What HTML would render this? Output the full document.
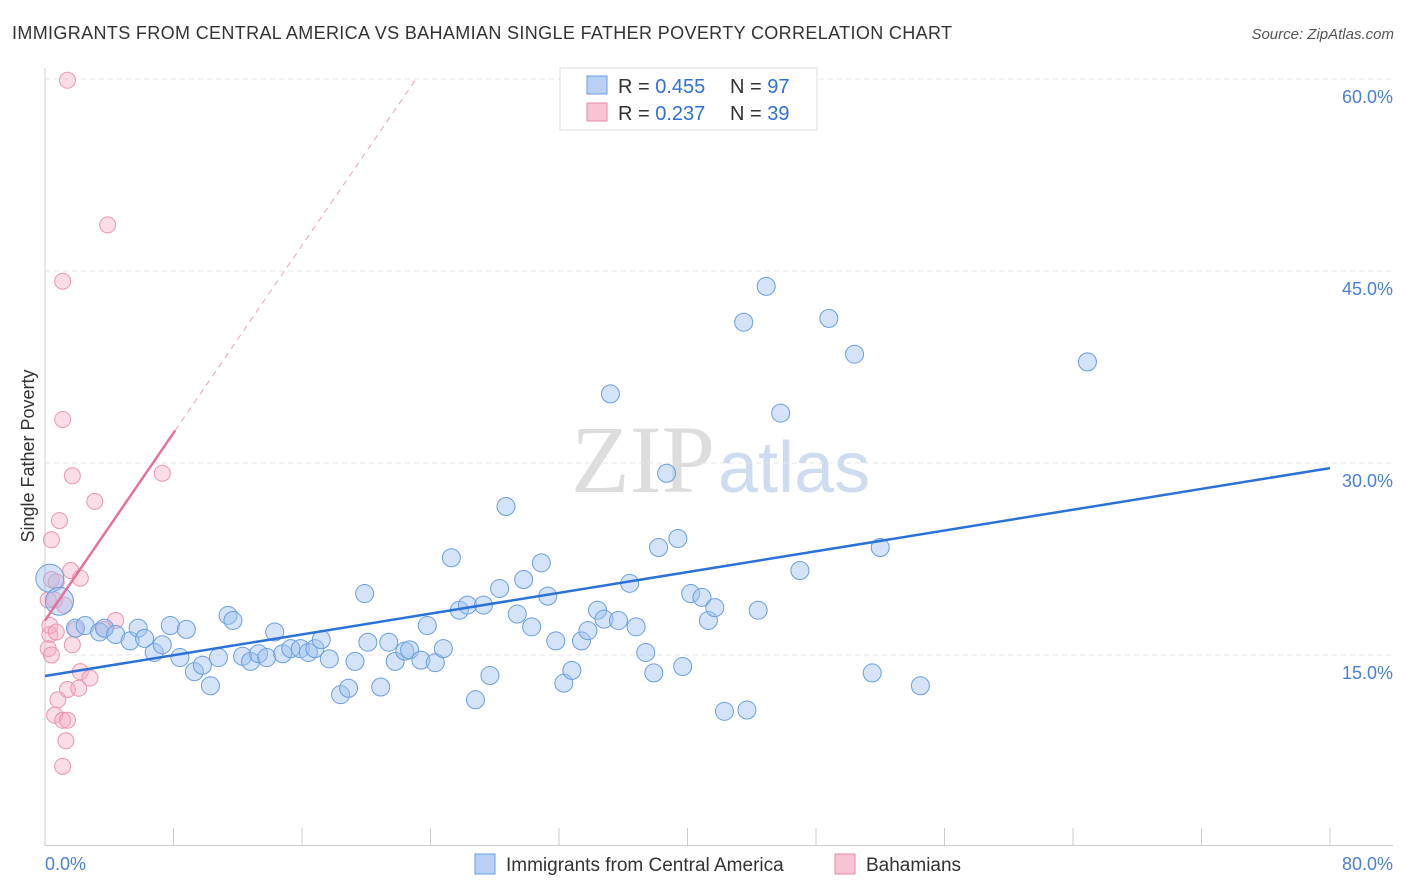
<!DOCTYPE html>
<html><head><meta charset="utf-8"><style>
body{margin:0;background:#fff;font-family:"Liberation Sans",sans-serif;}
#wrap{position:relative;width:1406px;height:892px;overflow:hidden;}
</style></head><body>
<div id="wrap">
<svg id="chart" width="1406" height="892" style="position:absolute;left:0;top:0">
<text x="12" y="39" font-size="18" fill="#333" textLength="940">IMMIGRANTS FROM CENTRAL AMERICA VS BAHAMIAN SINGLE FATHER POVERTY CORRELATION CHART</text>
<text x="1394" y="39" font-size="15" fill="#555" text-anchor="end" font-style="italic">Source: ZipAtlas.com</text>
<text transform="translate(34,456) rotate(-90)" font-size="18" fill="#333" text-anchor="middle">Single Father Poverty</text>
<text x="715" y="492" font-size="96" fill="#ddd" text-anchor="end" font-family="Liberation Serif">ZIP</text>
<text x="718" y="492" font-size="72" fill="#cfdcf0">atlas</text>
<g id="grid"></g><g id="axes"></g><g id="pinkpts"></g><g id="bluepts"></g><g id="lines"></g>
<g>
<rect x="560" y="68" width="257" height="62" fill="#fff" stroke="#ddd"/>
<rect x="587" y="76" width="20" height="18" fill="#b8d0f4" stroke="#6a9ee0"/>
<rect x="587" y="103" width="20" height="18" fill="#f8c4d4" stroke="#e88aab"/>
<text x="618" y="93" font-size="20" fill="#333">R = <tspan fill="#2e6fd8">0.455</tspan></text>
<text x="730" y="93" font-size="20" fill="#333">N = <tspan fill="#2e6fd8">97</tspan></text>
<text x="618" y="120" font-size="20" fill="#333">R = <tspan fill="#2e6fd8"> 0.237</tspan></text>
<text x="730" y="120" font-size="20" fill="#333">N = <tspan fill="#2e6fd8">39</tspan></text>
</g>
<g>
<rect x="475" y="854" width="20" height="20" fill="#b8d0f4" stroke="#6a9ee0"/>
<text x="506" y="871" font-size="19" fill="#333">Immigrants from Central America</text>
<rect x="835" y="854" width="20" height="20" fill="#f8c4d4" stroke="#e88aab"/>
<text x="866" y="871" font-size="19" fill="#333">Bahamians</text>
</g>
<text x="45" y="870" font-size="18" fill="#4a7fd6">0.0%</text>
<text x="1393" y="870" font-size="18" fill="#4a7fd6" text-anchor="end">80.0%</text>
</svg>
</div>
<script>
const yTicks=[15,30,45,60];
const blueX=[0.3,0.9,1.9,2.5,3.4,3.7,4.4,5.3,5.8,6.2,6.8,7.3,7.8,8.4,8.8,9.3,9.8,10.3,10.8,11.4,11.7,12.3,12.8,13.3,13.8,14.3,14.8,15.3,15.9,16.4,16.8,17.2,17.7,18.4,18.9,19.3,19.9,20.1,20.9,21.4,21.8,22.4,22.7,23.4,23.8,24.3,24.8,25.3,25.8,26.3,26.8,27.3,27.7,28.3,28.7,29.4,29.8,30.3,30.9,31.3,31.8,32.3,32.8,33.4,33.8,34.4,34.8,35.2,35.7,36.4,36.8,37.4,37.9,38.2,38.7,39.4,39.7,40.2,40.9,41.3,41.7,42.3,43.5,43.7,44.4,44.9,45.8,47.0,48.8,50.4,51.5,52.0,54.5,64.9];
const blueY=[21.0,19.2,17.1,17.3,16.8,17.1,16.6,16.1,17.1,16.3,15.2,15.8,17.3,14.8,17.0,13.7,14.2,12.6,14.8,18.1,17.7,14.9,14.5,15.1,14.8,16.8,15.1,15.5,15.5,15.2,15.5,16.2,14.7,11.9,12.4,14.5,19.8,16.0,12.5,16.0,14.5,15.3,15.4,14.6,17.3,14.4,15.5,22.6,18.5,18.9,11.5,18.9,13.4,20.2,26.6,18.2,20.9,17.2,22.2,19.6,16.1,12.8,13.8,16.1,16.9,18.5,17.8,35.4,17.7,20.6,17.2,15.2,13.6,23.4,29.2,24.1,14.1,19.8,19.5,17.7,18.7,10.6,41.0,10.7,18.5,43.8,33.9,21.6,41.3,38.5,13.6,23.4,12.6,37.9];
const pinkX=[1.4,3.9,1.1,1.1,1.7,7.3,3.1,0.9,0.4,0.4,1.6,2.2,0.6,1.2,0.3,0.2,0.4,1.9,1.7,4.4,3.7,2.2,2.8,1.4,2.1,0.8,0.6,1.1,1.4,1.3,1.1,0.2,0.7,0.3,0.7];
const pinkY=[59.9,48.6,44.2,33.4,29.0,29.2,27.0,25.5,24.0,20.9,21.6,21.0,19.3,18.9,16.6,15.5,15.0,17.0,15.8,17.7,17.0,13.7,13.2,12.3,12.4,11.5,10.3,9.9,9.9,8.3,6.3,19.3,20.7,17.3,16.8];
const blueTrend=[13.36,29.6];
const pinkTrend=[17.7,60];
const pinkSolidEnd=8.1, pinkDashEnd=23.1;
const NS='http://www.w3.org/2000/svg';
const xS=v=>45+v*(1285/80);
const yS=v=>847-v*12.8;
function mk(t,a,p){const e=document.createElementNS(NS,t);for(const k in a)e.setAttribute(k,a[k]);p.appendChild(e);return e;}
const grid=document.getElementById('grid');
yTicks.forEach(t=>{
 const l=mk('line',{x1:45,x2:1393,y1:yS(t),y2:yS(t),stroke:'#e4e4e4','stroke-dasharray':'5,4'},grid);
 
 
 const tx=mk('text',{x:1393,y:yS(t)+24,'font-size':18,fill:'#4a7fd6','text-anchor':'end'},grid);
 tx.textContent=t.toFixed(1)+'%';
 
 
});
const ax=document.getElementById('axes');
mk('line',{x1:45,x2:45,y1:68,y2:846,stroke:'#ccc'},ax);
mk('line',{x1:45,x2:1393,y1:845.5,y2:845.5,stroke:'#ccc'},ax);
for(let i=0;i<=10;i++){mk('line',{x1:xS(i*8),x2:xS(i*8),y1:828,y2:846,stroke:'#ccc'},ax);}
const pg=document.getElementById('pinkpts');
pinkX.forEach((v,i)=>{
 const c=mk('circle',{cx:xS(v),cy:yS(pinkY[i]),r:8,fill:'rgba(245,170,195,0.4)',stroke:'#e896b2','stroke-width':1},pg);
 
 
});
const bg=document.getElementById('bluepts');
blueX.forEach((v,i)=>{
 const c=mk('circle',{cx:xS(v),cy:yS(blueY[i]),r:i<2?14:9,fill:'rgba(160,192,240,0.45)',stroke:'#6a9ee0','stroke-width':1},bg);
 
 
});
const lg=document.getElementById('lines');
const pSlope=(pinkTrend[1]-pinkTrend[0])/pinkDashEnd;
const bl=mk('line',{x1:xS(0),y1:yS(blueTrend[0]),x2:xS(80),y2:yS(blueTrend[1]),stroke:'#2a72d8','stroke-width':2.5},lg);


const pd=mk('line',{x1:xS(pinkSolidEnd),y1:yS(pinkTrend[0]+pSlope*pinkSolidEnd),x2:xS(pinkDashEnd),y2:yS(pinkTrend[1]),stroke:'#e8a0b8','stroke-width':1,'stroke-dasharray':'6,5'},lg);


const ps=mk('line',{x1:xS(0),y1:yS(pinkTrend[0]),x2:xS(pinkSolidEnd),y2:yS(pinkTrend[0]+pSlope*pinkSolidEnd),stroke:'#e8709a','stroke-width':2.5},lg);


</script>
</body></html>
